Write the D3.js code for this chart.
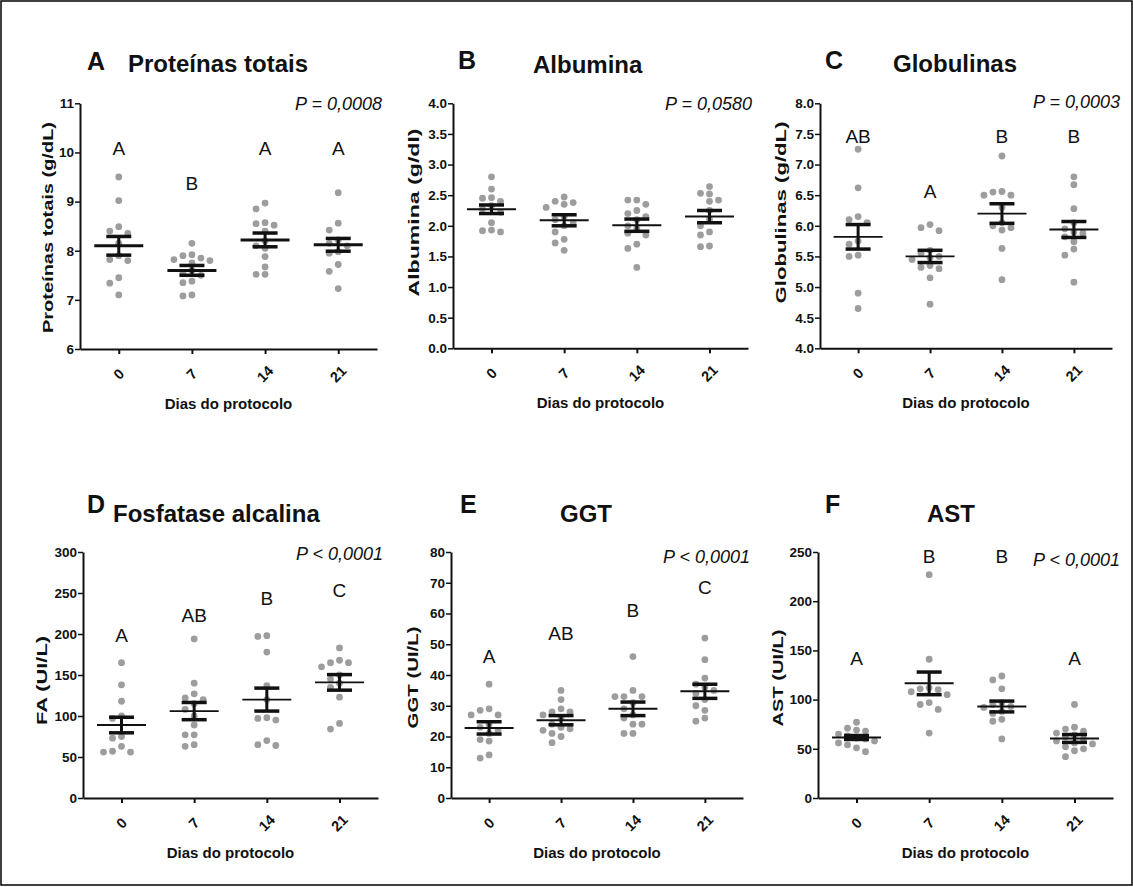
<!DOCTYPE html>
<html><head><meta charset="utf-8">
<script src="https://cdn.jsdelivr.net/npm/d3@7"></script>
<style>
body{margin:0;background:#fff}
svg{display:block}
text{font-family:"Liberation Sans",Arial,sans-serif;fill:#111}
</style>
</head><body>
<svg id="chart" width="1133" height="887"></svg>
<script>
// ---------------- DATA ----------------
const days = ["0", "7", "14", "21"];

// A - Proteínas totais (g/dL)
const protValues = [
  [9.5, 9.02, 8.49, 8.4, 8.35, 8.15, 7.9, 7.82, 7.8, 7.45, 7.34, 7.1],
  [8.15, 7.92, 7.9, 7.85, 7.82, 7.8, 7.75, 7.6, 7.55, 7.5, 7.38, 7.35, 7.1, 7.08],
  [8.97, 8.85, 8.57, 8.55, 8.52, 8.4, 8.2, 8.1, 8.05, 7.88, 7.67, 7.52, 7.52],
  [9.18, 8.56, 8.42, 8.22, 8.15, 8.1, 7.98, 7.95, 7.72, 7.58, 7.23]
];
const protMean = [8.1, 7.6, 8.22, 8.12];
const protSem = [0.19, 0.1, 0.14, 0.13];
const protLetters = ["A", "B", "A", "A"];
const protLetterY = [9.95, 9.24, 9.95, 9.95];
const protTicks = [6, 7, 8, 9, 10, 11];

// B - Albumina (g/dl)
const albValues = [
  [2.8, 2.6, 2.46, 2.45, 2.4, 2.33, 2.28, 2.22, 2.05, 1.93, 1.92, 1.9],
  [2.47, 2.4, 2.38, 2.35, 2.3, 2.15, 2.1, 2.05, 2.0, 1.9, 1.78, 1.72, 1.6],
  [2.42, 2.42, 2.35, 2.25, 2.2, 2.15, 2.1, 2.0, 1.95, 1.88, 1.85, 1.7, 1.63, 1.32],
  [2.64, 2.53, 2.52, 2.42, 2.4, 2.25, 2.1, 2.0, 1.9, 1.85, 1.67, 1.66]
];
const albMean = [2.27, 2.09, 2.01, 2.15];
const albSem = [0.07, 0.09, 0.1, 0.1];
const albLetters = ["", "", "", ""];
const albLetterY = [0, 0, 0, 0];
const albTicks = [0, 0.5, 1, 1.5, 2, 2.5, 3, 3.5, 4];

// C - Globulinas (g/dL)
const globValues = [
  [7.25, 6.62, 6.15, 6.1, 6.05, 5.75, 5.7, 5.52, 5.5, 4.9, 4.65],
  [6.02, 5.97, 5.92, 5.6, 5.55, 5.5, 5.48, 5.45, 5.35, 5.32, 5.3, 5.15, 4.72],
  [7.14, 6.56, 6.55, 6.5, 6.5, 6.3, 6.05, 6.0, 5.97, 5.93, 5.63, 5.12],
  [6.8, 6.67, 6.28, 6.05, 5.95, 5.9, 5.88, 5.82, 5.74, 5.62, 5.52, 5.08]
];
const globMean = [5.82, 5.5, 6.2, 5.94];
const globSem = [0.2, 0.1, 0.16, 0.13];
const globLetters = ["AB", "A", "B", "B"];
const globLetterY = [7.35, 6.45, 7.35, 7.35];
const globTicks = [4, 4.5, 5, 5.5, 6, 6.5, 7, 7.5, 8];

// D - Fosfatase alcalina FA (UI/L)
const faValues = [
  [165, 138, 118, 100, 97, 75, 73, 63, 57, 56, 56],
  [194, 140, 127, 122, 120, 115, 108, 100, 89, 77, 77, 65, 63],
  [198, 197, 178, 137, 120, 98, 97, 95, 70, 65, 64],
  [183, 168, 165, 165, 160, 150, 145, 140, 135, 123, 91, 84]
];
const faMean = [89, 106, 120, 141];
const faSem = [9.5, 10.5, 14, 9.5];
const faLetters = ["A", "AB", "B", "C"];
const faLetterY = [190, 215, 235, 245];
const faTicks = [0, 50, 100, 150, 200, 250, 300];

// E - GGT (UI/L)
const ggtValues = [
  [37, 29, 28.5, 27, 27, 24, 23, 22, 21, 19, 18.5, 14, 13],
  [35, 32, 29, 28, 28, 27, 26, 24, 23, 22.5, 22, 21, 20, 18],
  [46, 35, 33, 33, 33, 31, 29, 27, 26, 24, 24, 21, 21],
  [52, 45, 39, 37, 36, 35, 34, 32, 30, 28.5, 26, 25]
];
const ggtMean = [22.8, 25.3, 29, 34.7];
const ggtSem = [2, 1.5, 2.2, 2.3];
const ggtLetters = ["A", "AB", "B", "C"];
const ggtLetterY = [44, 51.5, 59, 66.5];
const ggtTicks = [0, 10, 20, 30, 40, 50, 60, 70, 80];

// F - AST (UI/L)
const astValues = [
  [77, 71, 69, 68, 65, 63, 61, 60, 58, 56, 54, 51, 47],
  [227, 141, 112, 111, 110, 108, 105, 97, 95, 90, 66],
  [124, 120, 111, 97, 95, 93, 92, 88, 86, 80, 78, 60],
  [95, 72, 70, 68, 66, 64, 62, 60, 58, 56, 55, 52, 50, 48, 42]
];
const astMean = [61.5, 116.5, 93, 60.5];
const astSem = [2, 11.5, 5.5, 4];
const astLetters = ["A", "B", "B", "A"];
const astLetterY = [135, 239, 239, 135];
const astTicks = [0, 50, 100, 150, 200, 250];

const panelLetters = ["A", "B", "C", "D", "E", "F"];
const panelTitles = ["Proteínas totais", "Albumina", "Globulinas", "Fosfatase alcalina", "GGT", "AST"];
const yTitles = ["Proteínas totais (g/dL)", "Albumina (g/dl)", "Globulinas (g/dL)", "FA (UI/L)", "GGT (UI/L)", "AST (UI/L)"];
const pTexts = ["P = 0,0008", "P = 0,0580", "P = 0,0003", "P < 0,0001", "P < 0,0001", "P < 0,0001"];
const xTitle = "Dias do protocolo";

// ---------------- LAYOUT ----------------
const panels = [
  {values: protValues, mean: protMean, sem: protSem, letters: protLetters, letterY: protLetterY, ticks: protTicks, fmt: d3.format("d"),
   ax: 80, ex: 377, top: 103.3, bot: 349, letX: 87, letB: 70, titX: 128, titB: 72, yt: [49.5, 227.5, 211], pX: 382, pB: 110, meanW: 3},
  {values: albValues, mean: albMean, sem: albSem, letters: albLetters, letterY: albLetterY, ticks: albTicks, fmt: d3.format(".1f"),
   ax: 453, ex: 748, top: 103.3, bot: 348.3, letX: 458, letB: 68.5, titX: 533, titB: 73, yt: [415, 212.5, 168], pX: 752, pB: 110, meanW: 2},
  {values: globValues, mean: globMean, sem: globSem, letters: globLetters, letterY: globLetterY, ticks: globTicks, fmt: d3.format(".1f"),
   ax: 820, ex: 1112, top: 103.3, bot: 348.3, letX: 825, letB: 68.5, titX: 893, titB: 71.5, yt: [782, 212.5, 182], pX: 1120, pB: 108, meanW: 1.8},
  {values: faValues, mean: faMean, sem: faSem, letters: faLetters, letterY: faLetterY, ticks: faTicks, fmt: d3.format("d"),
   ax: 83, ex: 378, top: 552, bot: 798, letX: 87, letB: 513, titX: 113, titB: 521.5, yt: [43.5, 680.5, 89], pX: 383, pB: 560, meanW: 1.8},
  {values: ggtValues, mean: ggtMean, sem: ggtSem, letters: ggtLetters, letterY: ggtLetterY, ticks: ggtTicks, fmt: d3.format("d"),
   ax: 451, ex: 743, top: 552, bot: 798, letX: 460, letB: 513, titX: 560, titB: 521.5, yt: [414.5, 677.5, 102], pX: 750, pB: 563, meanW: 2},
  {values: astValues, mean: astMean, sem: astSem, letters: astLetters, letterY: astLetterY, ticks: astTicks, fmt: d3.format("d"),
   ax: 818, ex: 1113, top: 552, bot: 798, letX: 825, letB: 513, titX: 927, titB: 521.5, yt: [779.5, 678, 97], pX: 1120, pB: 566, meanW: 2}
];

const svg = d3.select("#chart");
svg.append("rect").attr("x", 1).attr("y", 1).attr("width", 1131).attr("height", 884)
  .attr("fill", "#fff").attr("stroke", "#000").attr("stroke-width", 1.5);

function swarm(vals, y, step, minD) {
  const placed = [];
  const sorted = vals.slice().sort((a, b) => b - a);
  const order = [0, -1, 1, -2, 2, -3, 3, -4, 4];
  sorted.forEach(v => {
    const py = y(v);
    for (const k of order) {
      const dx = k * step;
      if (placed.every(p => Math.hypot(p.dx - dx, p.py - py) >= minD)) {
        placed.push({v, dx, py});
        break;
      }
    }
  });
  return placed;
}

panels.forEach((p, i) => {
  const g = svg.append("g");
  const y = d3.scaleLinear().domain([p.ticks[0], p.ticks[p.ticks.length - 1]]).range([p.bot, p.top]);
  const x = d3.scalePoint().domain(days).range([p.ax, p.ex]).padding(0.53);

  // Dots
  days.forEach((d, j) => {
    const pts = swarm(p.values[j], y, 9, 7);
    g.append("g").selectAll("circle").data(pts).join("circle")
      .attr("cx", q => x(d) + q.dx).attr("cy", q => q.py).attr("r", 3.4)
      .attr("fill", "#9d9d9d");
  });

  // Mean + SEM
  const eb = g.append("g").attr("stroke", "#111");
  days.forEach((d, j) => {
    const cx = x(d), m = p.mean[j], s = p.sem[j];
    eb.append("line").attr("x1", cx - 24.5).attr("x2", cx + 24.5).attr("y1", y(m)).attr("y2", y(m)).attr("stroke-width", p.meanW);
    eb.append("line").attr("x1", cx).attr("x2", cx).attr("y1", y(m + s)).attr("y2", y(m - s)).attr("stroke-width", 3);
    [m + s, m - s].forEach(v => {
      eb.append("line").attr("x1", cx - 12.5).attr("x2", cx + 12.5).attr("y1", y(v)).attr("y2", y(v)).attr("stroke-width", 3.5);
    });
  });

  // Y axis
  const ya = g.append("g").attr("transform", `translate(${p.ax},0)`)
    .call(d3.axisLeft(y).tickValues(p.ticks).tickFormat(p.fmt).tickSize(5).tickSizeOuter(0).tickPadding(1));
  ya.select(".domain").attr("stroke", "#111").attr("stroke-width", 2);
  ya.selectAll(".tick line").attr("stroke", "#111").attr("stroke-width", 1.5);
  ya.selectAll(".tick text").attr("font-size", 13.5).attr("font-weight", "bold").attr("fill", "#111")
    .attr("font-family", "'Liberation Sans',Arial,sans-serif");

  // X axis
  const xa = g.append("g").attr("transform", `translate(0,${p.bot})`)
    .call(d3.axisBottom(x).tickSize(5).tickSizeOuter(0).tickFormat(""));
  xa.select(".domain").attr("stroke", "#111").attr("stroke-width", 2);
  xa.selectAll(".tick line").attr("stroke", "#111").attr("stroke-width", 2);
  g.append("g").selectAll("text").data(days).join("text")
    .attr("transform", d => `translate(${x(d)},${p.bot + 25}) rotate(-45)`)
    .attr("text-anchor", "middle").attr("dominant-baseline", "central")
    .attr("font-size", 14.5).attr("font-weight", "bold").text(d => d);

  // X title
  g.append("text").attr("x", (x(days[0]) + x(days[3])) / 2).attr("y", p.bot + 60)
    .attr("text-anchor", "middle").attr("font-size", 15).attr("font-weight", "bold").text(xTitle);

  // Y title
  const [yx, yy, yl] = p.yt;
  const fs = 20, sc = 0.72;
  g.append("text")
    .attr("transform", `translate(${yx + 0.26 * fs * sc},${yy}) rotate(-90) scale(1,${sc})`)
    .attr("text-anchor", "middle").attr("font-size", fs).attr("font-weight", "bold")
    .attr("textLength", yl).attr("lengthAdjust", "spacingAndGlyphs").text(yTitles[i]);

  // Panel letter and title
  g.append("text").attr("x", p.letX).attr("y", p.letB).attr("font-size", 25).attr("font-weight", "bold").text(panelLetters[i]);
  g.append("text").attr("x", p.titX).attr("y", p.titB).attr("font-size", 24).attr("font-weight", "bold").text(panelTitles[i]);

  // P value
  g.append("text").attr("x", p.pX).attr("y", p.pB).attr("text-anchor", "end")
    .attr("font-size", 18).attr("font-style", "italic").text(pTexts[i]);

  // significance letters
  days.forEach((d, j) => {
    if (!p.letters[j]) return;
    g.append("text").attr("x", x(d)).attr("y", y(p.letterY[j])).attr("text-anchor", "middle")
      .attr("font-size", 19).text(p.letters[j]);
  });
});
</script>
</body></html>
